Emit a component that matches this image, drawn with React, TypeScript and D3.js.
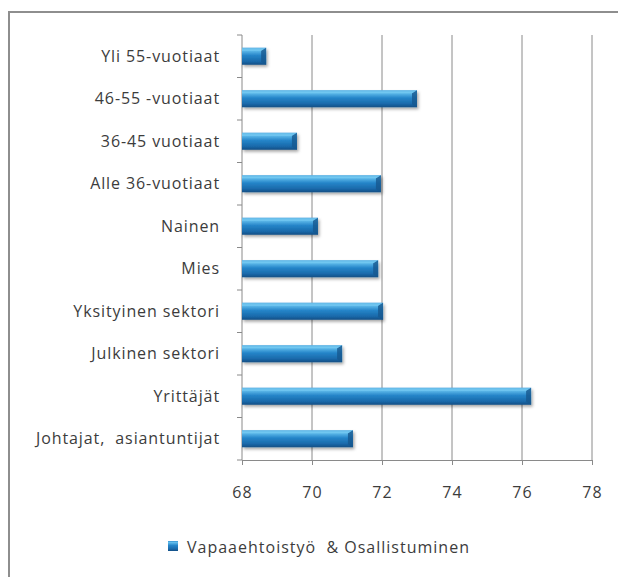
import React, { useEffect, useRef } from 'react';
import * as d3 from 'd3';

const categories = [
  'Yli 55-vuotiaat',
  '46-55 -vuotiaat',
  '36-45 vuotiaat',
  'Alle 36-vuotiaat',
  'Nainen',
  'Mies',
  'Yksityinen sektori',
  'Julkinen sektori',
  'Yrittäjät',
  'Johtajat,  asiantuntijat',
];
const values = [68.69, 73.0, 69.57, 71.97, 70.17, 71.89, 72.03, 70.86, 76.26, 71.17];
const xTicks = [68, 70, 72, 74, 76, 78];
const seriesName = 'Vapaaehtoistyö  & Osallistuminen';

const App = () => {
  const ref = useRef<SVGSVGElement | null>(null);

  useEffect(() => {
    if (!ref.current) return;
    const svg = d3.select(ref.current);
    svg.selectAll('*').remove();

    const W = 618;
    const H = 577;
    const left = 242;
    const right = 592;
    const top = 35;
    const bottom = 460;
    const font = 'Open Sans, Noto Sans, sans-serif';
    const textColor = '#3c3c3c';
    const axisColor = '#8a8a8a';

    svg.attr('width', W).attr('height', H);

    // gradients
    const defs = svg.append('defs');
    const grad = defs.append('linearGradient')
      .attr('id', 'barGrad').attr('x1', 0).attr('y1', 0).attr('x2', 0).attr('y2', 1);
    grad.append('stop').attr('offset', '0%').attr('stop-color', '#3894d2');
    grad.append('stop').attr('offset', '15%').attr('stop-color', '#62bdec');
    grad.append('stop').attr('offset', '45%').attr('stop-color', '#2585c9');
    grad.append('stop').attr('offset', '80%').attr('stop-color', '#1a69aa');
    grad.append('stop').attr('offset', '100%').attr('stop-color', '#124e84');
    const filt = defs.append('filter').attr('id', 'shadow')
      .attr('x', '-10%').attr('y', '-30%').attr('width', '130%').attr('height', '180%');
    filt.append('feDropShadow').attr('dx', 1.5).attr('dy', 2).attr('stdDeviation', 1.5)
      .attr('flood-color', '#000').attr('flood-opacity', 0.35);

    // outer border
    svg.append('rect')
      .attr('x', 9).attr('y', 12).attr('width', 640).attr('height', 600)
      .attr('fill', 'white').attr('stroke', '#8e8e8e').attr('stroke-width', 2);

    const x = d3.scaleLinear().domain([68, 78]).range([left, right]);
    const y = d3.scaleBand().domain(categories).range([top, bottom]).paddingInner(0.6).paddingOuter(0.3);
    const step = (bottom - top) / categories.length;

    // gridlines
    svg.append('g').selectAll('line')
      .data(xTicks.slice(1))
      .enter().append('line')
      .attr('x1', d => x(d)).attr('x2', d => x(d))
      .attr('y1', top).attr('y2', bottom)
      .attr('stroke', axisColor).attr('stroke-width', 1);

    // x axis
    const xAxis = svg.append('g')
      .attr('transform', `translate(0,${bottom})`)
      .call(d3.axisBottom(x).tickValues(xTicks).tickSize(5).tickSizeOuter(0).tickPadding(22));
    xAxis.select('.domain').attr('stroke', axisColor);
    xAxis.selectAll('.tick line').attr('stroke', axisColor);
    xAxis.selectAll('.tick text')
      .attr('fill', textColor).style('font-family', font).style('font-size', '16px')
      .style('letter-spacing', '1px');

    // y axis line + ticks at band boundaries
    svg.append('line')
      .attr('x1', left).attr('x2', left).attr('y1', top).attr('y2', bottom)
      .attr('stroke', axisColor);
    svg.append('g').selectAll('line')
      .data(d3.range(categories.length + 1))
      .enter().append('line')
      .attr('x1', left - 5).attr('x2', left)
      .attr('y1', i => top + i * step).attr('y2', i => top + i * step)
      .attr('stroke', axisColor);

    // category labels
    svg.append('g').selectAll('text')
      .data(categories)
      .enter().append('text')
      .attr('x', left - 22)
      .attr('y', d => (y(d) as number) + y.bandwidth() / 2)
      .attr('dy', '0.35em')
      .attr('text-anchor', 'end')
      .attr('fill', textColor)
      .style('font-family', font)
      .style('font-size', '16px')
      .style('letter-spacing', '0.9px')
      .style('white-space', 'pre')
      .text(d => d);

    // bars
    const bars = svg.append('g').selectAll('g')
      .data(values)
      .enter().append('g');
    const bh = y.bandwidth();
    bars.append('rect')
      .attr('x', x(68))
      .attr('y', (d, i) => y(categories[i]) as number)
      .attr('width', d => x(d) - x(68))
      .attr('height', bh)
      .attr('fill', 'url(#barGrad)')
      .attr('filter', 'url(#shadow)');
    // bevelled right end
    bars.append('path')
      .attr('d', (d, i) => {
        const y0 = y(categories[i]) as number;
        const x1 = x(d);
        const b = Math.min(5, (x1 - x(68)) / 3);
        return `M${x1 - b},${y0 + 3} L${x1},${y0} L${x1},${y0 + bh} L${x1 - b},${y0 + bh - 3} Z`;
      })
      .attr('fill', '#17588f').attr('opacity', 0.8);
    bars.append('path')
      .attr('d', (d, i) => {
        const y0 = y(categories[i]) as number;
        const x1 = x(d);
        const b = Math.min(5, (x1 - x(68)) / 3);
        return `M${x(68)},${y0} L${x1},${y0} L${x1 - b},${y0 + 3} L${x(68)},${y0 + 3} Z`;
      })
      .attr('fill', '#7fd0f5').attr('opacity', 0.6);

    // legend
    const lg = svg.append('g').attr('transform', 'translate(168,541)');
    lg.append('rect').attr('x', 0).attr('y', 0).attr('width', 10).attr('height', 10)
      .attr('fill', 'url(#barGrad)');
    lg.append('text')
      .attr('x', 19).attr('y', 6).attr('dy', '0.35em')
      .attr('fill', textColor)
      .style('font-family', font)
      .style('font-size', '16px')
      .style('letter-spacing', '1px')
      .style('white-space', 'pre')
      .text(seriesName);
  }, []);

  return (
    <svg ref={ref} style={{ position: 'absolute', left: 0, top: 0, display: 'block' }} />
  );
};

export default App;
